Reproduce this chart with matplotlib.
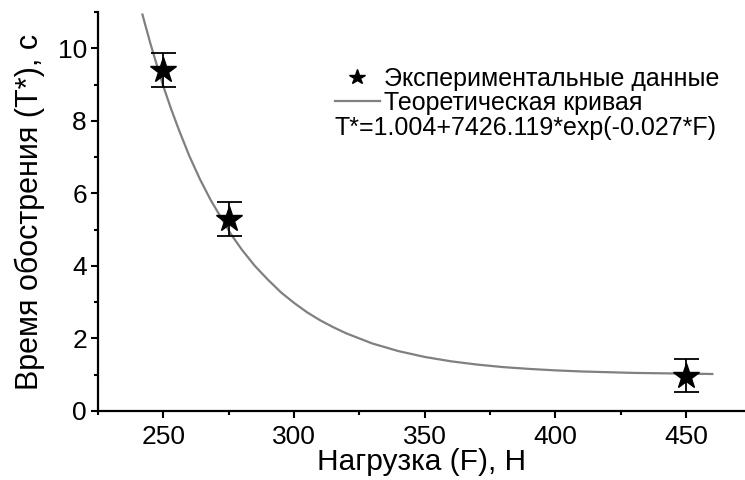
import matplotlib
matplotlib.use('Agg')
import matplotlib.pyplot as plt
from matplotlib.ticker import MultipleLocator

plt.rcParams['font.family'] = ['Liberation Sans', 'DejaVu Sans']

# experimental points (load F, H ; sharpening time T*, s ; error)
load = [250, 275, 450]
time_exp = [9.4, 5.3, 0.97]
time_err = [0.47, 0.47, 0.45]

# theoretical curve
curve_f = [242, 245, 248, 250, 253, 256, 260, 264, 268, 272, 276, 280, 285,
           290, 295, 300, 305, 310, 315, 320, 330, 340, 350, 360, 370, 380,
           390, 400, 410, 420, 430, 440, 450, 460]
curve_t = [10.93, 10.14, 9.42, 8.95, 8.32, 7.74, 7.02, 6.39, 5.83, 5.34, 4.86,
           4.45, 4.00, 3.62, 3.27, 2.98, 2.72, 2.50, 2.31, 2.14, 1.86, 1.65,
           1.49, 1.37, 1.28, 1.21, 1.16, 1.12, 1.09, 1.07, 1.05, 1.04, 1.03,
           1.02]

fit_label = 'T*=1.004+7426.119*exp(-0.027*F)'

fig = plt.figure(figsize=(7.45, 4.8), dpi=100)
ax = fig.add_axes([98 / 745, 69 / 480, 647 / 745, 399 / 480])

line, = ax.plot(curve_f, curve_t, color='#808080', lw=1.6, zorder=2)
eb = ax.errorbar(load, time_exp, yerr=time_err, fmt='*', ms=19, color='black',
                 ecolor='black', elinewidth=1.3, capsize=9, capthick=1.3, zorder=3)

ax.set_xlim(225, 472.5)
ax.set_ylim(0, 11)
ax.xaxis.set_major_locator(MultipleLocator(50))
ax.xaxis.set_minor_locator(MultipleLocator(25))
ax.yaxis.set_major_locator(MultipleLocator(2))
ax.yaxis.set_minor_locator(MultipleLocator(1))

for s in ['top', 'right']:
    ax.spines[s].set_visible(False)
for s in ['left', 'bottom']:
    ax.spines[s].set_linewidth(1.6)
ax.tick_params(which='major', direction='out', length=5, width=1.5,
               labelsize=19, pad=3)
ax.tick_params(axis='x', which='major', pad=5)
ax.tick_params(which='minor', direction='out', length=3, width=1.5)

ax.set_xlabel('Нагрузка (F), Н', fontsize=21.5, labelpad=-1)
ax.set_ylabel('Время обострения (T*), с', fontsize=22, labelpad=9)

leg = ax.legend([eb[0], line], ['Экспериментальные данные', 'Теоретическая кривая'],
                loc='upper left', bbox_to_anchor=(0.366, 0.862), frameon=False,
                fontsize=18, markerscale=0.6, handlelength=1.8,
                handletextpad=0.15, labelspacing=0.0, borderpad=0,
                borderaxespad=0)
ax.text(0.366, 0.709, fit_label, transform=ax.transAxes, fontsize=18,
        ha='left', va='center')

fig.savefig('out.png', dpi=100)
